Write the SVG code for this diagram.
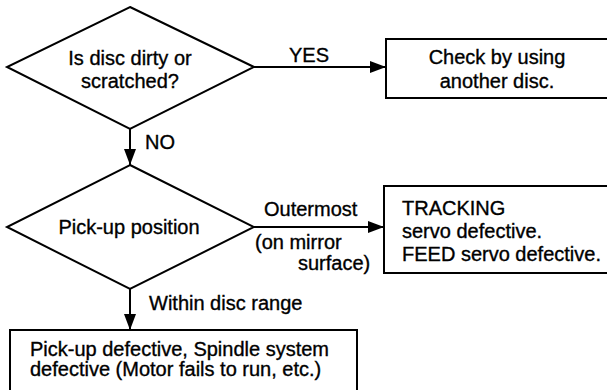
<svg xmlns="http://www.w3.org/2000/svg" width="607" height="390" viewBox="0 0 607 390">
<style>
.s{fill:#fff;stroke:#000;stroke-width:2}
.c{fill:none;stroke:#000;stroke-width:2}
text{font-family:"Liberation Sans",Arial,sans-serif;font-size:20px;fill:#000;stroke:#000;stroke-width:0.35}
.m{text-anchor:middle}
</style>
<defs>
<marker id="a" markerUnits="userSpaceOnUse" markerWidth="16" markerHeight="12" refX="16" refY="6" orient="auto">
<path d="M0,0 L16,6 L0,12 z" fill="#000"/>
</marker>
</defs>
<g id="connectors">
<path class="c" d="M254,67 H386" marker-end="url(#a)"/>
<path class="c" d="M130,129 V165" marker-end="url(#a)"/>
<path class="c" d="M254,227 H384" marker-end="url(#a)"/>
<path class="c" d="M130,289 V330" marker-end="url(#a)"/>
<text x="309" y="62" class="m">YES</text>
<text x="145" y="149">NO</text>
<text x="264" y="216">Outermost</text>
<text x="255" y="249">(on mirror</text>
<text x="298" y="270">surface)</text>
<text x="149" y="310">Within disc range</text>
</g>
<g id="q1">
<polygon class="s" points="130,7 254,67 130,129 7,67"/>
<text x="130" y="65" class="m">Is disc dirty or</text>
<text x="130" y="88" class="m">scratched?</text>
</g>
<g id="check">
<rect class="s" x="386" y="39" width="230" height="59"/>
<text x="497" y="64" class="m">Check by using</text>
<text x="497" y="88" class="m">another disc.</text>
</g>
<g id="q2">
<polygon class="s" points="130,165 254,227 130,289 7,227"/>
<text x="129" y="234" class="m">Pick-up position</text>
</g>
<g id="tracking">
<rect class="s" x="384" y="186" width="230" height="87"/>
<text x="402" y="215">TRACKING</text>
<text x="402" y="238">servo defective.</text>
<text x="402" y="261">FEED servo defective.</text>
</g>
<g id="pickup">
<rect class="s" x="10" y="330" width="347" height="70"/>
<text x="30" y="356">Pick-up defective, Spindle system</text>
<text x="30" y="376">defective (Motor fails to run, etc.)</text>
</g>
</svg>
